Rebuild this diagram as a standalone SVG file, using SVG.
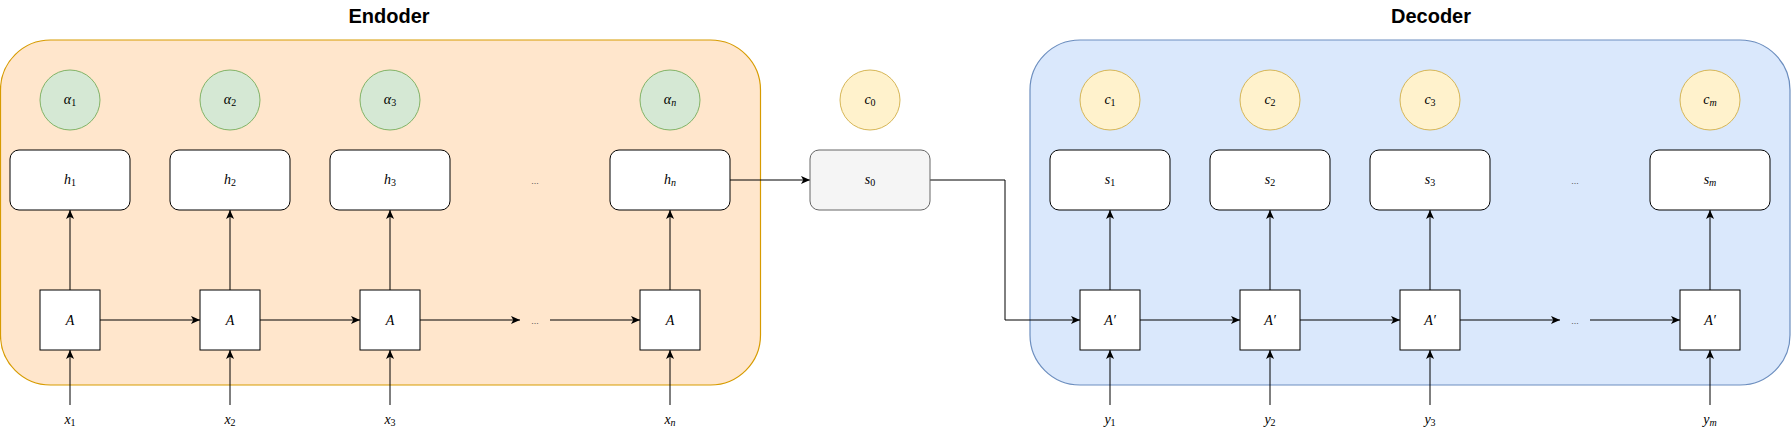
<svg xmlns="http://www.w3.org/2000/svg" width="1791" height="439" viewBox="0 0 1791 439">
<style>
.title{font-family:"Liberation Sans",Arial,sans-serif;font-weight:bold;font-size:20px;fill:#000;text-anchor:middle}
.m{font-family:"Liberation Serif","Times New Roman",serif;font-style:italic;font-size:14px;fill:#000;text-anchor:middle}
.sub{font-size:10px;font-style:normal}
.subi{font-size:10px;font-style:italic}
.dots{font-family:"Liberation Sans",Arial,sans-serif;font-size:9px;fill:#555;text-anchor:middle}
.enc{fill:#ffe6cc;stroke:#d79b00;stroke-width:1.2}
.dec{fill:#dae8fc;stroke:#6c8ebf;stroke-width:1.2}
.alpha{fill:#d5e8d4;stroke:#82b366;stroke-width:1}
.ctx{fill:#fff2cc;stroke:#d6b656;stroke-width:1}
.st{fill:#fff;stroke:#000;stroke-width:1}
.s0{fill:#f5f5f5;stroke:#666;stroke-width:1}
.cell{fill:#fff;stroke:#000;stroke-width:1}
.edge{fill:none;stroke:#000;stroke-width:1;marker-end:url(#arr)}
</style>
<defs>
<marker id="arr" markerUnits="userSpaceOnUse" viewBox="0 0 10 10" refX="10" refY="5" markerWidth="9" markerHeight="9" orient="auto">
<path d="M0,0.5 L10,5 L0,9.5 L2.5,5 Z" fill="#000"/>
</marker>
</defs>
<rect width="1791" height="439" fill="#fff"/>

<g id="encoder-container">
<rect class="enc" x="0.5" y="40" width="760" height="345" rx="50" ry="50"/>
<text class="title" x="389" y="23">Endoder</text>
</g>
<g id="decoder-container">
<rect class="dec" x="1030" y="40" width="760" height="345" rx="50" ry="50"/>
<text class="title" x="1431" y="23">Decoder</text>
</g>

<g id="connectors">
<line class="edge" x1="70" y1="405" x2="70" y2="350"/>
<line class="edge" x1="230" y1="405" x2="230" y2="350"/>
<line class="edge" x1="390" y1="405" x2="390" y2="350"/>
<line class="edge" x1="670" y1="405" x2="670" y2="350"/>
<line class="edge" x1="1110" y1="405" x2="1110" y2="350"/>
<line class="edge" x1="1270" y1="405" x2="1270" y2="350"/>
<line class="edge" x1="1430" y1="405" x2="1430" y2="350"/>
<line class="edge" x1="1710" y1="405" x2="1710" y2="350"/>
<line class="edge" x1="70" y1="290" x2="70" y2="210"/>
<line class="edge" x1="230" y1="290" x2="230" y2="210"/>
<line class="edge" x1="390" y1="290" x2="390" y2="210"/>
<line class="edge" x1="670" y1="290" x2="670" y2="210"/>
<line class="edge" x1="1110" y1="290" x2="1110" y2="210"/>
<line class="edge" x1="1270" y1="290" x2="1270" y2="210"/>
<line class="edge" x1="1430" y1="290" x2="1430" y2="210"/>
<line class="edge" x1="1710" y1="290" x2="1710" y2="210"/>
<line class="edge" x1="100" y1="320" x2="200" y2="320"/>
<line class="edge" x1="260" y1="320" x2="360" y2="320"/>
<line class="edge" x1="420" y1="320" x2="520" y2="320"/>
<line class="edge" x1="550" y1="320" x2="640" y2="320"/>
<line class="edge" x1="1140" y1="320" x2="1240" y2="320"/>
<line class="edge" x1="1300" y1="320" x2="1400" y2="320"/>
<line class="edge" x1="1460" y1="320" x2="1560" y2="320"/>
<line class="edge" x1="1590" y1="320" x2="1680" y2="320"/>
<line class="edge" x1="730" y1="180" x2="810" y2="180"/>
<polyline class="edge" points="930,180 1005,180 1005,320 1080,320"/>
</g>

<g id="alpha1"><circle class="alpha" cx="70" cy="100" r="30"/><text class="m" x="70" y="104">α<tspan class="sub" dy="2">1</tspan></text></g>
<g id="alpha2"><circle class="alpha" cx="230" cy="100" r="30"/><text class="m" x="230" y="104">α<tspan class="sub" dy="2">2</tspan></text></g>
<g id="alpha3"><circle class="alpha" cx="390" cy="100" r="30"/><text class="m" x="390" y="104">α<tspan class="sub" dy="2">3</tspan></text></g>
<g id="alphan"><circle class="alpha" cx="670" cy="100" r="30"/><text class="m" x="670" y="104">α<tspan class="subi" dy="2">n</tspan></text></g>

<g id="h1"><rect class="st" x="10" y="150" width="120" height="60" rx="9"/><text class="m" x="70" y="184">h<tspan class="sub" dy="2">1</tspan></text></g>
<g id="h2"><rect class="st" x="170" y="150" width="120" height="60" rx="9"/><text class="m" x="230" y="184">h<tspan class="sub" dy="2">2</tspan></text></g>
<g id="h3"><rect class="st" x="330" y="150" width="120" height="60" rx="9"/><text class="m" x="390" y="184">h<tspan class="sub" dy="2">3</tspan></text></g>
<g id="hdots"><text class="dots" x="535" y="184">...</text></g>
<g id="hn"><rect class="st" x="610" y="150" width="120" height="60" rx="9"/><text class="m" x="670" y="184">h<tspan class="subi" dy="2">n</tspan></text></g>

<g id="A1"><rect class="cell" x="40" y="290" width="60" height="60"/><text class="m" x="70" y="325">A</text></g>
<g id="A2"><rect class="cell" x="200" y="290" width="60" height="60"/><text class="m" x="230" y="325">A</text></g>
<g id="A3"><rect class="cell" x="360" y="290" width="60" height="60"/><text class="m" x="390" y="325">A</text></g>
<g id="Adots"><text class="dots" x="535" y="324">...</text></g>
<g id="An"><rect class="cell" x="640" y="290" width="60" height="60"/><text class="m" x="670" y="325">A</text></g>

<g id="x1"><text class="m" x="70" y="424">x<tspan class="sub" dy="2">1</tspan></text></g>
<g id="x2"><text class="m" x="230" y="424">x<tspan class="sub" dy="2">2</tspan></text></g>
<g id="x3"><text class="m" x="390" y="424">x<tspan class="sub" dy="2">3</tspan></text></g>
<g id="xn"><text class="m" x="670" y="424">x<tspan class="subi" dy="2">n</tspan></text></g>

<g id="c0"><circle class="ctx" cx="870" cy="100" r="30"/><text class="m" x="870" y="104">c<tspan class="sub" dy="2">0</tspan></text></g>
<g id="s0"><rect class="s0" x="810" y="150" width="120" height="60" rx="9"/><text class="m" x="870" y="184" fill="#333">s<tspan class="sub" dy="2">0</tspan></text></g>

<g id="c1"><circle class="ctx" cx="1110" cy="100" r="30"/><text class="m" x="1110" y="104">c<tspan class="sub" dy="2">1</tspan></text></g>
<g id="c2"><circle class="ctx" cx="1270" cy="100" r="30"/><text class="m" x="1270" y="104">c<tspan class="sub" dy="2">2</tspan></text></g>
<g id="c3"><circle class="ctx" cx="1430" cy="100" r="30"/><text class="m" x="1430" y="104">c<tspan class="sub" dy="2">3</tspan></text></g>
<g id="cm"><circle class="ctx" cx="1710" cy="100" r="30"/><text class="m" x="1710" y="104">c<tspan class="subi" dy="2">m</tspan></text></g>

<g id="s1"><rect class="st" x="1050" y="150" width="120" height="60" rx="9"/><text class="m" x="1110" y="184">s<tspan class="sub" dy="2">1</tspan></text></g>
<g id="s2"><rect class="st" x="1210" y="150" width="120" height="60" rx="9"/><text class="m" x="1270" y="184">s<tspan class="sub" dy="2">2</tspan></text></g>
<g id="s3"><rect class="st" x="1370" y="150" width="120" height="60" rx="9"/><text class="m" x="1430" y="184">s<tspan class="sub" dy="2">3</tspan></text></g>
<g id="sdots"><text class="dots" x="1575" y="184">...</text></g>
<g id="sm"><rect class="st" x="1650" y="150" width="120" height="60" rx="9"/><text class="m" x="1710" y="184">s<tspan class="subi" dy="2">m</tspan></text></g>

<g id="Ap1"><rect class="cell" x="1080" y="290" width="60" height="60"/><text class="m" x="1110" y="325">A′</text></g>
<g id="Ap2"><rect class="cell" x="1240" y="290" width="60" height="60"/><text class="m" x="1270" y="325">A′</text></g>
<g id="Ap3"><rect class="cell" x="1400" y="290" width="60" height="60"/><text class="m" x="1430" y="325">A′</text></g>
<g id="Apdots"><text class="dots" x="1575" y="324">...</text></g>
<g id="Apm"><rect class="cell" x="1680" y="290" width="60" height="60"/><text class="m" x="1710" y="325">A′</text></g>

<g id="y1"><text class="m" x="1110" y="424">y<tspan class="sub" dy="2">1</tspan></text></g>
<g id="y2"><text class="m" x="1270" y="424">y<tspan class="sub" dy="2">2</tspan></text></g>
<g id="y3"><text class="m" x="1430" y="424">y<tspan class="sub" dy="2">3</tspan></text></g>
<g id="ym"><text class="m" x="1710" y="424">y<tspan class="subi" dy="2">m</tspan></text></g>
</svg>
